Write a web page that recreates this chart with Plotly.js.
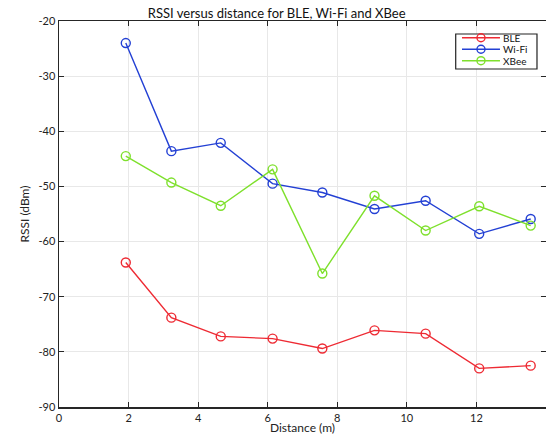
<!DOCTYPE html>
<html>
<head>
<meta charset="utf-8">
<script src="https://cdn.plot.ly/plotly-3.0.1.min.js"></script>
<style>html,body{margin:0;padding:0;background:#fff}#chart{width:546px;height:435px}</style>
</head>
<body>
<div id="chart"></div>
<script>
// Data
const distance = [1.92, 3.23, 4.65, 6.14, 7.57, 9.07, 10.54, 12.08, 13.56];
const bleRSSI  = [-63.8, -73.8, -77.2, -77.6, -79.4, -76.1, -76.7, -83.0, -82.5];
const wifiRSSI = [-24.0, -43.6, -42.1, -49.5, -51.1, -54.1, -52.6, -58.6, -55.9];
const xbeeRSSI = [-44.5, -49.3, -53.5, -46.9, -65.8, -51.7, -58.0, -53.6, -57.1];
const seriesNames = ['BLE', 'Wi-Fi', 'XBee'];
const xTickVals = [0, 2, 4, 6, 8, 10, 12, 14];
const xTickText = ['0', '2', '4', '6', '8', '10', '12', '14'];
const yTickVals = [-90, -80, -70, -60, -50, -40, -30, -20];
const yTickText = ['-90', '-80', '-70', '-60', '-50', '-40', '-30', '-20'];

const colors = ['#ee2a33', '#2340d4', '#7ee02c'];
const values = [bleRSSI, wifiRSSI, xbeeRSSI];
const FONT = 'Lato, "Open Sans", sans-serif';

const traces = values.map((v, i) => ({
  type: 'scatter', mode: 'lines+markers', name: seriesNames[i],
  x: distance, y: v,
  line: {color: colors[i], width: 1.4},
  marker: {symbol: 'circle-open', size: 9, color: colors[i], line: {width: 1.4, color: colors[i]}},
  showlegend: false
}));

// Custom compact legend (MATLAB-style)
const shapes = [{
  type: 'rect', xref: 'paper', yref: 'paper',
  x0: 0.8146, x1: 0.9815, y0: 0.8756, y1: 0.9663,
  line: {color: '#222', width: 1.2}, fillcolor: '#fff', layer: 'above'
}];
const annotations = [];
const legY = [0.9567, 0.9269, 0.8972];
seriesNames.forEach((n, i) => {
  shapes.push({type: 'line', xref: 'paper', yref: 'paper', x0: 0.8275, x1: 0.9055, y0: legY[i], y1: legY[i],
    line: {color: colors[i], width: 1.4}, layer: 'above'});
  shapes.push({type: 'circle', xref: 'paper', yref: 'paper', xsizemode: 'pixel', ysizemode: 'pixel',
    xanchor: 0.8665, yanchor: legY[i], x0: -4, x1: 4, y0: -4, y1: 4,
    line: {color: colors[i], width: 1.4}, fillcolor: 'rgba(255,255,255,0)', layer: 'above'});
  annotations.push({xref: 'paper', yref: 'paper', x: 0.9097, y: legY[i], xanchor: 'left', yanchor: 'middle',
    text: n, showarrow: false, borderpad: 0, font: {family: FONT, size: 10, color: '#111'}});
});

const layout = {
  width: 546, height: 435,
  margin: {l: 59, r: 0, t: 21, b: 28, pad: 0},
  paper_bgcolor: '#fff', plot_bgcolor: '#fff',
  font: {family: FONT, size: 11, color: '#222'},
  title: {text: 'RSSI versus distance for BLE, Wi-Fi and XBee', font: {family: FONT, size: 13, color: '#111'},
    x: 0.447, xref: 'paper', xanchor: 'center', y: 0.97, yref: 'container', yanchor: 'middle'},
  xaxis: {range: [0, 14], tickvals: xTickVals, ticktext: xTickText,
    showgrid: true, gridcolor: '#e8e8e8', gridwidth: 1, zeroline: false,
    showline: true, linecolor: '#262626', linewidth: 1.5, mirror: 'allticks',
    ticks: 'inside', ticklen: 5, tickcolor: '#262626', tickwidth: 1.2,
    tickfont: {family: FONT, size: 11, color: '#222'},
    title: {text: 'Distance (m)', font: {family: FONT, size: 12, color: '#222'}, standoff: 2}},
  yaxis: {range: [-90, -20], tickvals: yTickVals, ticktext: yTickText,
    showgrid: true, gridcolor: '#e8e8e8', gridwidth: 1, zeroline: false,
    showline: true, linecolor: '#262626', linewidth: 1.5, mirror: 'allticks',
    ticks: 'inside', ticklen: 5, tickcolor: '#262626', tickwidth: 1.2,
    tickfont: {family: FONT, size: 11, color: '#222'},
    title: {text: 'RSSI (dBm)', font: {family: FONT, size: 12, color: '#222'}, standoff: 6}},
  shapes: shapes,
  annotations: annotations
};

Plotly.newPlot('chart', traces, layout, {staticPlot: true, displayModeBar: false});
</script>
</body>
</html>
